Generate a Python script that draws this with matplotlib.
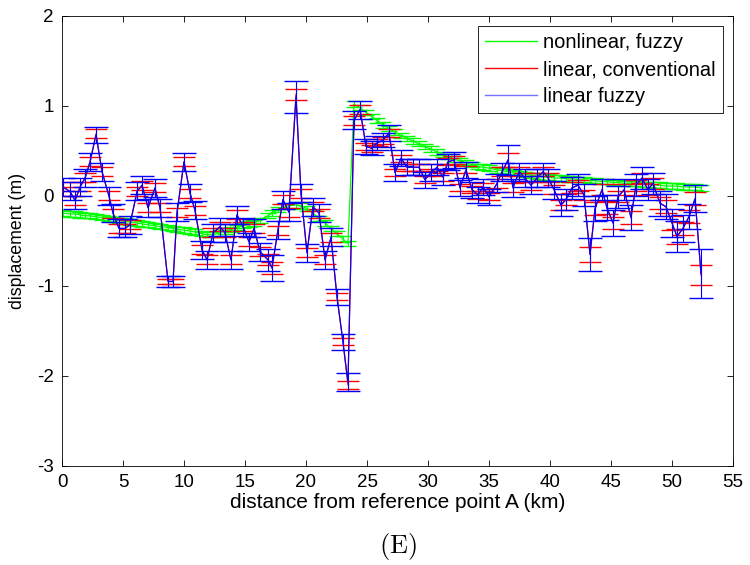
import matplotlib
matplotlib.use('Agg')
import matplotlib.pyplot as plt
from matplotlib.lines import Line2D

# ---------------- data ----------------
dist = [0.08, 0.66, 1.07, 1.48, 1.89, 2.30, 2.79, 3.28, 3.85, 4.18,
        4.67, 5.16, 5.57, 6.15, 6.56, 7.05, 7.62, 8.03, 8.69, 9.10,
        9.43, 10.00, 10.50, 10.90, 11.48, 11.89, 12.38, 12.95, 13.36, 13.85,
        14.34, 14.84, 15.33, 15.74, 16.23, 16.89, 17.21, 17.70, 18.11, 18.60,
        19.18, 19.59, 20.08, 20.57, 21.07, 21.56, 22.05, 22.54, 23.03, 23.44,
        23.93, 24.43, 24.92, 25.41, 25.82, 26.31, 26.80, 27.30, 27.79, 28.28,
        28.77, 29.26, 29.75, 30.25, 30.74, 31.23, 31.64, 32.13, 32.62, 33.11,
        33.61, 34.10, 34.51, 35.00, 35.66, 36.07, 36.56, 36.97, 37.46, 37.95,
        38.44, 38.93, 39.43, 39.84, 40.33, 40.90, 41.31, 41.80, 42.30, 42.79,
        43.28, 43.69, 44.26, 44.67, 45.16, 45.57, 46.07, 46.64, 47.05, 47.54,
        48.03, 48.44, 49.02, 49.51, 50.00, 50.41, 50.90, 51.39, 51.89, 52.38]

nonlinear_fuzzy = [-0.19, -0.20, -0.20, -0.21, -0.22, -0.22, -0.23, -0.24, -0.25, -0.26,
                   -0.27, -0.28, -0.29, -0.30, -0.31, -0.32, -0.33, -0.34, -0.35, -0.36,
                   -0.37, -0.38, -0.39, -0.40, -0.42, -0.43, -0.43, -0.41, -0.39, -0.37,
                   -0.35, -0.33, -0.31, -0.30, -0.27, -0.22, -0.19, -0.15, -0.12, -0.11,
                   -0.10, -0.11, -0.14, -0.19, -0.25, -0.30, -0.36, -0.42, -0.48, -0.53,
                   1.02, 0.98, 0.93, 0.88, 0.84, 0.79, 0.75, 0.71, 0.67, 0.64,
                   0.61, 0.58, 0.55, 0.52, 0.49, 0.46, 0.44, 0.41, 0.39, 0.37,
                   0.35, 0.33, 0.32, 0.31, 0.29, 0.28, 0.27, 0.26, 0.25, 0.24,
                   0.23, 0.22, 0.21, 0.21, 0.20, 0.20, 0.19, 0.19, 0.18, 0.18,
                   0.17, 0.17, 0.16, 0.16, 0.15, 0.15, 0.14, 0.14, 0.14, 0.13,
                   0.13, 0.12, 0.12, 0.11, 0.11, 0.11, 0.10, 0.10, 0.10, 0.09]
nonlinear_err = 0.03

linear_fuzzy = [0.10, 0.05, -0.05, 0.10, 0.20, 0.38, 0.68, 0.27, 0.00, -0.19,
                -0.36, -0.36, -0.32, 0.05, 0.12, -0.13, 0.09, -0.13, -0.95, -0.95,
                -0.18, 0.38, 0.03, -0.16, -0.60, -0.71, -0.41, -0.34, -0.41, -0.71,
                -0.21, -0.34, -0.51, -0.36, -0.62, -0.71, -0.80, -0.38, -0.04, -0.18,
                1.10, 0.03, -0.63, -0.12, -0.19, -0.71, -0.46, -1.12, -1.62, -2.07,
                0.84, 0.96, 0.55, 0.53, 0.59, 0.62, 0.70, 0.26, 0.42, 0.32,
                0.32, 0.32, 0.18, 0.26, 0.32, 0.21, 0.38, 0.40, 0.09, 0.29,
                0.07, 0.01, 0.10, -0.01, 0.14, 0.27, 0.40, 0.09, 0.27, 0.20,
                0.12, 0.20, 0.27, 0.20, 0.07, -0.10, -0.04, 0.09, 0.12, 0.01,
                -0.65, -0.14, 0.07, -0.13, -0.30, -0.01, 0.07, -0.24, 0.12, 0.20,
                0.07, 0.14, -0.08, -0.12, -0.30, -0.45, -0.36, -0.23, -0.03, -0.86]

linear_fuzzy_err = [0.10, 0.10, 0.10, 0.10, 0.10, 0.10, 0.09, 0.10, 0.10, 0.10,
                    0.10, 0.10, 0.10, 0.10, 0.10, 0.10, 0.10, 0.10, 0.06, 0.06,
                    0.10, 0.10, 0.10, 0.10, 0.10, 0.10, 0.10, 0.10, 0.10, 0.10,
                    0.10, 0.10, 0.10, 0.10, 0.10, 0.12, 0.14, 0.10, 0.10, 0.10,
                    0.18, 0.10, 0.10, 0.10, 0.10, 0.10, 0.10, 0.09, 0.09, 0.10,
                    0.10, 0.10, 0.08, 0.08, 0.08, 0.08, 0.09, 0.09, 0.09, 0.09,
                    0.09, 0.09, 0.09, 0.09, 0.09, 0.09, 0.09, 0.09, 0.09, 0.09,
                    0.09, 0.09, 0.09, 0.09, 0.10, 0.10, 0.17, 0.10, 0.10, 0.10,
                    0.10, 0.10, 0.10, 0.10, 0.10, 0.12, 0.12, 0.12, 0.12, 0.12,
                    0.18, 0.14, 0.12, 0.14, 0.14, 0.12, 0.12, 0.14, 0.12, 0.12,
                    0.12, 0.12, 0.14, 0.14, 0.16, 0.17, 0.15, 0.14, 0.15, 0.27]

linear_conv = [0.10, 0.05, -0.05, 0.10, 0.20, 0.38, 0.69, 0.27, 0.00, -0.19,
               -0.36, -0.36, -0.32, 0.05, 0.12, -0.13, 0.09, -0.13, -0.95, -0.95,
               -0.18, 0.38, 0.03, -0.16, -0.60, -0.71, -0.41, -0.34, -0.41, -0.71,
               -0.21, -0.34, -0.51, -0.36, -0.62, -0.71, -0.80, -0.38, -0.04, -0.18,
               1.13, 0.03, -0.63, -0.12, -0.19, -0.71, -0.46, -1.12, -1.62, -2.10,
               0.84, 0.96, 0.55, 0.53, 0.59, 0.62, 0.70, 0.26, 0.42, 0.32,
               0.32, 0.32, 0.18, 0.26, 0.32, 0.21, 0.38, 0.40, 0.09, 0.29,
               0.07, 0.01, 0.10, -0.01, 0.14, 0.27, 0.40, 0.09, 0.27, 0.20,
               0.12, 0.20, 0.27, 0.20, 0.07, -0.10, -0.04, 0.09, 0.12, 0.01,
               -0.65, -0.14, 0.07, -0.13, -0.30, -0.01, 0.07, -0.24, 0.12, 0.20,
               0.07, 0.14, -0.08, -0.12, -0.30, -0.45, -0.36, -0.23, -0.03, -0.88]

linear_conv_err = [0.05, 0.05, 0.05, 0.05, 0.05, 0.05, 0.05, 0.05, 0.05, 0.05,
                   0.05, 0.05, 0.05, 0.05, 0.05, 0.05, 0.05, 0.05, 0.03, 0.03,
                   0.05, 0.05, 0.05, 0.05, 0.05, 0.05, 0.05, 0.05, 0.05, 0.05,
                   0.05, 0.05, 0.05, 0.05, 0.05, 0.06, 0.07, 0.05, 0.05, 0.05,
                   0.06, 0.05, 0.05, 0.05, 0.05, 0.05, 0.05, 0.04, 0.04, 0.05,
                   0.05, 0.05, 0.04, 0.04, 0.04, 0.04, 0.04, 0.04, 0.04, 0.04,
                   0.04, 0.04, 0.04, 0.04, 0.04, 0.04, 0.04, 0.04, 0.04, 0.04,
                   0.04, 0.04, 0.04, 0.04, 0.05, 0.05, 0.08, 0.05, 0.05, 0.05,
                   0.05, 0.05, 0.05, 0.05, 0.05, 0.06, 0.06, 0.06, 0.06, 0.06,
                   0.08, 0.07, 0.06, 0.07, 0.07, 0.06, 0.06, 0.07, 0.06, 0.06,
                   0.06, 0.06, 0.07, 0.07, 0.08, 0.08, 0.07, 0.07, 0.07, 0.11]

labels = ['nonlinear, fuzzy', 'linear, conventional', 'linear fuzzy']
xticks = [0, 5, 10, 15, 20, 25, 30, 35, 40, 45, 50, 55]
yticks = [-3, -2, -1, 0, 1, 2]

# ---------------- plot ----------------
plt.rcParams['font.family'] = ['Liberation Sans', 'DejaVu Sans']
plt.rcParams['mathtext.fontset'] = 'cm'
plt.rcParams['axes.unicode_minus'] = False

fig = plt.figure(figsize=(7.5, 5.65), dpi=100)
ax = fig.add_axes([62 / 750, 1 - 466 / 565, (733 - 62) / 750, (466 - 16) / 565])

GREEN, RED, BLUE = (0, 1, 0), (1, 0, 0), (0, 0, 1)

ax.errorbar(dist, nonlinear_fuzzy, yerr=nonlinear_err, color=GREEN, lw=0.9,
            elinewidth=0.8, capsize=6, capthick=1.0, zorder=2)
ax.errorbar(dist, linear_conv, yerr=linear_conv_err, color=RED, lw=0.9,
            elinewidth=0.8, capsize=8, capthick=1.0, zorder=3)
ax.errorbar(dist, linear_fuzzy, yerr=linear_fuzzy_err, color=BLUE, lw=0.85,
            elinewidth=0.8, capsize=8.5, capthick=1.0, zorder=4)

ax.set_xlim(0, 55)
ax.set_ylim(-3, 2)
ax.set_xticks(xticks)
ax.set_yticks(yticks)
ax.tick_params(direction='in', top=True, right=True, length=4.5, width=0.6,
               labelsize=13.5, pad=6)
for s in ax.spines.values():
    s.set_linewidth(0.6)

ax.set_xlabel('distance from reference point A (km)', fontsize=15, labelpad=1)
ax.set_ylabel('displacement (m)', fontsize=12.8, labelpad=8)

handles = [Line2D([], [], color=c, lw=1.0) for c in (GREEN, RED, (0.45, 0.45, 1))]
leg = ax.legend(handles, labels, loc='upper right', fontsize=14.5,
                frameon=True, fancybox=False, framealpha=1, edgecolor='black',
                handlelength=2.6, handletextpad=0.3, borderpad=0.35,
                labelspacing=0.4, borderaxespad=0.5)
leg.get_frame().set_linewidth(0.6)

fig.text((62 + 733) / 2 / 750, 1 - 546 / 565, r'$(\mathrm{E})$', fontsize=19,
         ha='center', va='center')

fig.savefig('out.png', dpi=100)
